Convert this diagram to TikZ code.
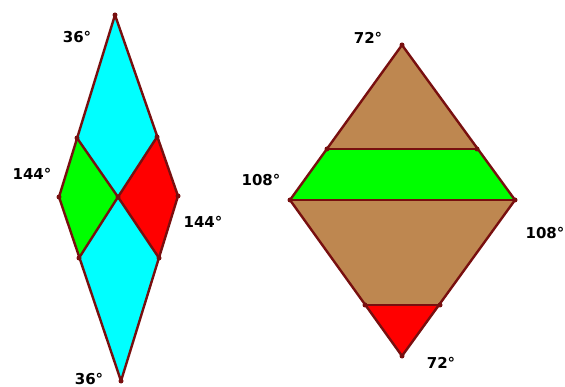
\documentclass[tikz,border=0pt]{standalone}
\usepackage{fontspec}
\setmainfont{DejaVu Sans}
\begin{document}
\begin{tikzpicture}[x=1pt,y=-1pt,
  edge/.style={draw=maroon,line width=2.4pt,line join=round},
  vdot/.style={circle,fill=maroon,inner sep=0pt,minimum size=5pt},
  lbl/.style={font=\bfseries\fontsize{15}{16}\selectfont,inner sep=0pt}]
\definecolor{maroon}{RGB}{120,15,15}
\definecolor{cyanc}{RGB}{0,255,255}
\definecolor{greenc}{RGB}{0,255,0}
\definecolor{redc}{RGB}{255,0,0}
\definecolor{brownc}{RGB}{190,135,80}
\useasboundingbox (0,0) rectangle (565,387);
% left rhombus
\coordinate (T1) at (115,15);
\coordinate (UL) at (77,138);
\coordinate (UR) at (157,137);
\coordinate (L1) at (59,197);
\coordinate (R1) at (178,196);
\coordinate (C1) at (118,197);
\coordinate (LL) at (79,258);
\coordinate (LR) at (159,258);
\coordinate (B1) at (121,381);
\fill[cyanc] (T1) -- (UR) -- (C1) -- (UL) -- cycle;
\fill[cyanc] (C1) -- (LR) -- (B1) -- (LL) -- cycle;
\fill[greenc] (UL) -- (C1) -- (LL) -- (L1) -- cycle;
\fill[redc] (UR) -- (R1) -- (LR) -- (C1) -- cycle;
\draw[edge] (T1) -- (R1) -- (B1) -- (L1) -- cycle;
\draw[edge] (UL) -- (C1) -- (LR);
\draw[edge] (UR) -- (C1) -- (LL);
\foreach \p in {T1,UL,UR,L1,R1,C1,LL,LR,B1} \node[vdot] at (\p) {};
\node[lbl] (a1) at (77,37) {36°};
\node[lbl] (a2) at (32,174) {144°};
\node[lbl] (a3) at (203,222) {144°};
\node[lbl] (a4) at (89,379) {36°};
% right figure
\coordinate (T2) at (402,45);
\coordinate (GL) at (327,149);
\coordinate (GR) at (477,149);
\coordinate (L2) at (290,200);
\coordinate (R2) at (515,200);
\coordinate (RL) at (365,305);
\coordinate (RR) at (440,305);
\coordinate (B2) at (402,356);
\fill[brownc] (T2) -- (GR) -- (GL) -- cycle;
\fill[greenc] (GL) -- (GR) -- (R2) -- (L2) -- cycle;
\fill[brownc] (L2) -- (R2) -- (RR) -- (RL) -- cycle;
\fill[redc] (RL) -- (RR) -- (B2) -- cycle;
\draw[edge] (T2) -- (R2) -- (B2) -- (L2) -- cycle;
\draw[edge] (GL) -- (GR);
\draw[edge] (L2) -- (R2);
\draw[edge] (RL) -- (RR);
\foreach \p in {T2,GL,GR,L2,R2,RL,RR,B2} \node[vdot] at (\p) {};
\node[lbl] (b1) at (368,38) {72°};
\node[lbl] (b2) at (261,180) {108°};
\node[lbl] (b3) at (545,233) {108°};
\node[lbl] (b4) at (441,363) {72°};
\end{tikzpicture}
\end{document}
